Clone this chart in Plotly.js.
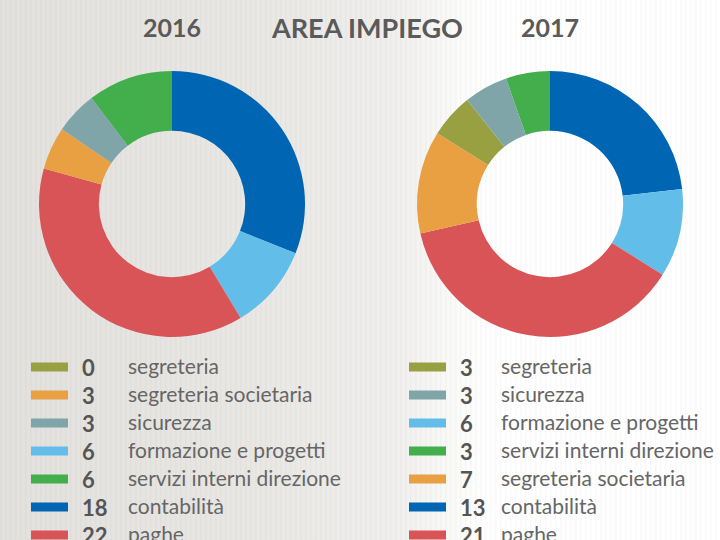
<!DOCTYPE html>
<html>
<head>
<meta charset="utf-8">
<script src="https://cdn.plot.ly/plotly-3.0.1.min.js"></script>
<style>
  html, body { margin: 0; padding: 0; }
  #chart {
    width: 720px; height: 540px;
    background:
      repeating-linear-gradient(90deg, rgba(0,0,0,0.025) 0px, rgba(0,0,0,0.025) 1px, rgba(255,255,255,0) 2px, rgba(255,255,255,0) 5px),
      linear-gradient(90deg, #e3e1de 0%, #e9e7e4 35%, #f0efed 55%, #fbfbfa 64%, #ffffff 68%, #ffffff 100%);
  }
</style>
</head>
<body>
<div id="chart"></div>
<script>
// ---- data ----
const title = 'AREA IMPIEGO';
const yearLabels = ['2016', '2017'];

// legend order (as listed under each chart)
const cats2016 = ['segreteria', 'segreteria societaria', 'sicurezza', 'formazione e progetti', 'servizi interni direzione', 'contabilità', 'paghe'];
const vals2016 = [0, 3, 3, 6, 6, 18, 22];
const cats2017 = ['segreteria', 'sicurezza', 'formazione e progetti', 'servizi interni direzione', 'segreteria societaria', 'contabilità', 'paghe'];
const vals2017 = [3, 3, 6, 3, 7, 13, 21];

// slice order, clockwise from 12 o'clock
const pieOrder2016 = ['contabilità', 'formazione e progetti', 'paghe', 'segreteria societaria', 'sicurezza', 'servizi interni direzione'];
const pieOrder2017 = ['contabilità', 'formazione e progetti', 'paghe', 'segreteria societaria', 'segreteria', 'sicurezza', 'servizi interni direzione'];

const colorMap = {
  'segreteria': '#99a042',
  'segreteria societaria': '#e8a042',
  'sicurezza': '#7fa5a8',
  'formazione e progetti': '#62bde9',
  'servizi interni direzione': '#42ae4c',
  'contabilità': '#0066b3',
  'paghe': '#d95456'
};

// ---- build ----
const W = 720, H = 540;
const px = x => x / W;
const py = y => 1 - y / H;

function pieTrace(cats, vals, order, x0, x1, y0, y1) {
  const lookup = {};
  cats.forEach((c, i) => lookup[c] = vals[i]);
  return {
    type: 'pie',
    labels: order,
    values: order.map(c => lookup[c]),
    marker: { colors: order.map(c => colorMap[c]), line: { width: 0 } },
    hole: 0.55,
    sort: false,
    direction: 'clockwise',
    rotation: 0,
    textinfo: 'none',
    showlegend: false,
    domain: { x: [px(x0), px(x1)], y: [py(y1), py(y0)] }
  };
}

const data = [
  pieTrace(cats2016, vals2016, pieOrder2016, 39, 305, 71, 337),
  pieTrace(cats2017, vals2017, pieOrder2017, 417, 683, 71, 337)
];

const annotations = [];
const shapes = [];
const titleFont = { family: 'Lato, "Open Sans", sans-serif', size: 27, color: '#5a5a5a', weight: 'bold' };

annotations.push({ text: '<b>' + title + '</b>', x: px(367), y: py(28), xref: 'paper', yref: 'paper', xanchor: 'center', yanchor: 'middle', showarrow: false, font: titleFont });
annotations.push({ text: '<b>' + yearLabels[0] + '</b>', x: px(172), y: py(27), xref: 'paper', yref: 'paper', xanchor: 'center', yanchor: 'middle', showarrow: false, font: Object.assign({}, titleFont, { size: 25 }) });
annotations.push({ text: '<b>' + yearLabels[1] + '</b>', x: px(550), y: py(27), xref: 'paper', yref: 'paper', xanchor: 'center', yanchor: 'middle', showarrow: false, font: Object.assign({}, titleFont, { size: 25 }) });

function legendBlock(cats, vals, swX, numX, labX) {
  cats.forEach((c, i) => {
    const yc = 367 + 28 * i;
    shapes.push({ type: 'rect', xref: 'paper', yref: 'paper', x0: px(swX), x1: px(swX + 37), y0: py(yc + 4.5), y1: py(yc - 4.5), fillcolor: colorMap[c], line: { width: 0 } });
    annotations.push({ text: '<b>' + vals[i] + '</b>', x: px(numX), y: py(yc), xref: 'paper', yref: 'paper', xanchor: 'left', yanchor: 'middle', showarrow: false, font: { family: 'Lato, sans-serif', size: 22, color: '#555555' } });
    annotations.push({ text: c, x: px(labX), y: py(yc - 2), xref: 'paper', yref: 'paper', xanchor: 'left', yanchor: 'middle', showarrow: false, font: { family: 'Lato, sans-serif', size: 21, color: '#666666' } });
  });
}
legendBlock(cats2016, vals2016, 31, 80, 126);
legendBlock(cats2017, vals2017, 409, 458, 499);

const layout = {
  width: W, height: H,
  margin: { l: 0, r: 0, t: 0, b: 0 },
  paper_bgcolor: 'rgba(0,0,0,0)',
  plot_bgcolor: 'rgba(0,0,0,0)',
  annotations: annotations,
  shapes: shapes,
  showlegend: false
};

Plotly.newPlot('chart', data, layout, { displayModeBar: false, staticPlot: true });
</script>
</body>
</html>
